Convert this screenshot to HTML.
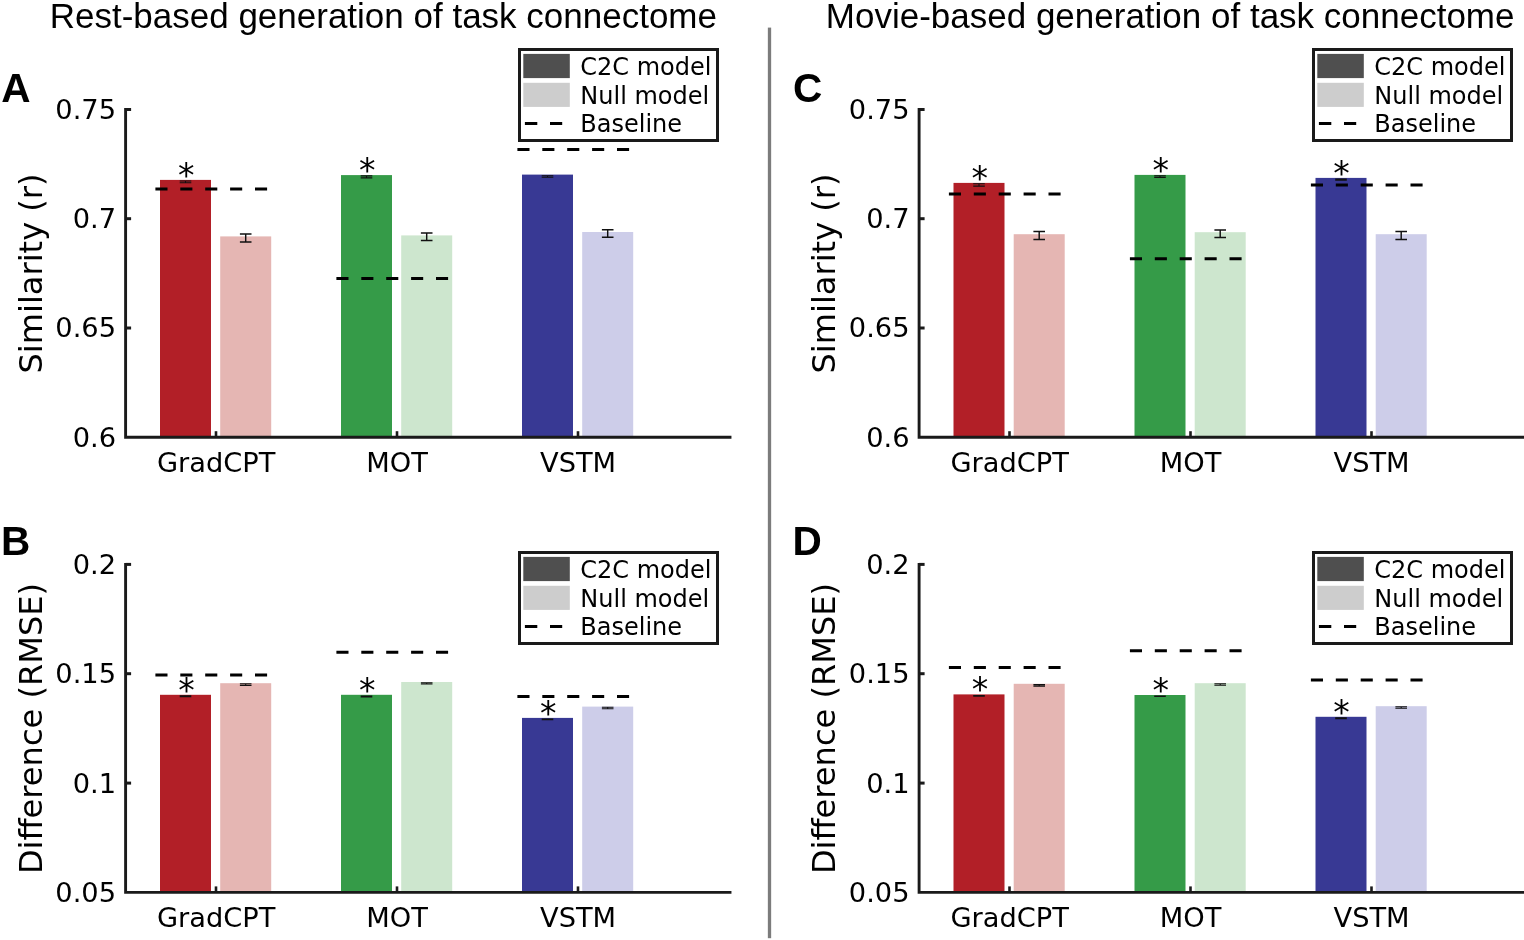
<!DOCTYPE html>
<html><head><meta charset="utf-8"><title>Figure</title>
<style>
html,body{margin:0;padding:0;background:#fff;}
svg{display:block;}
.tk{font-family:'DejaVu Sans', sans-serif;font-size:27.25px;fill:#000;}
.lg{font-family:'DejaVu Sans', sans-serif;font-size:24px;fill:#000;}
.yl{font-family:'DejaVu Sans', sans-serif;font-size:32.1px;fill:#000;}
.st{font-family:'DejaVu Sans', sans-serif;font-size:33px;fill:#000;}
.tt{font-family:'Liberation Sans', Arial, sans-serif;font-size:35px;fill:#000;}
.pl{font-family:'Liberation Sans', Arial, sans-serif;font-size:40.6px;font-weight:bold;fill:#000;}
</style></head>
<body>
<svg width="1524" height="940" viewBox="0 0 1524 940">
<rect width="1524" height="940" fill="#fff"/>
<text transform="translate(49.7 27.7) scale(1 1.025)" class="tt">Rest-based generation of task connectome</text>
<text transform="translate(825.8 27.7) scale(1 1.025)" class="tt">Movie-based generation of task connectome</text>
<rect x="767.85" y="27.6" width="3.3" height="910.6" fill="#7c7c7c"/>
<rect x="160.0" y="179.9" width="51.0" height="257.3" fill="#b21f27"/>
<rect x="220.2" y="236.4" width="51.0" height="200.8" fill="#e5b6b3"/>
<rect x="341.0" y="175.1" width="51.0" height="262.1" fill="#359b48"/>
<rect x="401.2" y="235.4" width="51.0" height="201.8" fill="#cde6ce"/>
<rect x="522.0" y="174.6" width="51.0" height="262.6" fill="#383994"/>
<rect x="582.2" y="232.0" width="51.0" height="205.2" fill="#cdcde9"/>
<path d="M185.5 181.0V182.7M179.7 181.0H191.3M179.7 182.7H191.3" stroke="#111" stroke-width="1.1" fill="none"/>
<path d="M245.7 234.0V242.0M239.9 234.0H251.5M239.9 242.0H251.5" stroke="#111" stroke-width="1.45" fill="none"/>
<path d="M366.5 175.9V177.9M360.7 175.9H372.3M360.7 177.9H372.3" stroke="#111" stroke-width="1.1" fill="none"/>
<path d="M426.7 232.9V240.5M420.9 232.9H432.5M420.9 240.5H432.5" stroke="#111" stroke-width="1.45" fill="none"/>
<path d="M547.5 175.8V177.2M541.7 175.8H553.3M541.7 177.2H553.3" stroke="#111" stroke-width="1.1" fill="none"/>
<path d="M607.7 229.7V237.3M601.9 229.7H613.5M601.9 237.3H613.5" stroke="#111" stroke-width="1.45" fill="none"/>
<line x1="155.4" y1="189.1" x2="267.2" y2="189.1" stroke="#000" stroke-width="3" stroke-dasharray="12.1 12.8"/>
<line x1="336.4" y1="278.4" x2="448.2" y2="278.4" stroke="#000" stroke-width="3" stroke-dasharray="12.1 12.8"/>
<line x1="517.4" y1="149.4" x2="629.2" y2="149.4" stroke="#000" stroke-width="3" stroke-dasharray="12.1 12.8"/>
<text x="186.3" y="187.1" text-anchor="middle" class="st">*</text>
<text x="367.2" y="182.1" text-anchor="middle" class="st">*</text>
<path d="M125.6 109.5V437.2H730.0" stroke="#1a1a1a" stroke-width="2.9" fill="none" stroke-linecap="square"/>
<line x1="125.6" y1="109.5" x2="131.1" y2="109.5" stroke="#1a1a1a" stroke-width="3"/>
<text x="116.0" y="118.9" text-anchor="end" class="tk">0.75</text>
<line x1="125.6" y1="218.7" x2="131.1" y2="218.7" stroke="#1a1a1a" stroke-width="3"/>
<text x="116.0" y="228.1" text-anchor="end" class="tk">0.7</text>
<line x1="125.6" y1="328.0" x2="131.1" y2="328.0" stroke="#1a1a1a" stroke-width="3"/>
<text x="116.0" y="337.4" text-anchor="end" class="tk">0.65</text>
<text x="116.0" y="446.6" text-anchor="end" class="tk">0.6</text>
<line x1="216.0" y1="437.2" x2="216.0" y2="431.2" stroke="#1a1a1a" stroke-width="2.6"/>
<text x="216.1" y="471.6" text-anchor="middle" class="tk">GradCPT</text>
<line x1="397.0" y1="437.2" x2="397.0" y2="431.2" stroke="#1a1a1a" stroke-width="2.6"/>
<text x="397.1" y="471.6" text-anchor="middle" class="tk">MOT</text>
<line x1="578.0" y1="437.2" x2="578.0" y2="431.2" stroke="#1a1a1a" stroke-width="2.6"/>
<text x="578.1" y="471.6" text-anchor="middle" class="tk">VSTM</text>
<text transform="translate(41.8 273.5) rotate(-90)" text-anchor="middle" class="yl">Similarity (r)</text>
<text x="1.2" y="102.3" class="pl">A</text>
<rect x="519.5" y="49.5" width="198" height="91" fill="#fff" stroke="#1a1a1a" stroke-width="3"/>
<rect x="523.3" y="53.9" width="46.5" height="24.2" fill="#4f4f4f"/>
<rect x="523.3" y="82.8" width="46.5" height="24.1" fill="#cdcdcd"/>
<line x1="524.9" y1="123.5" x2="562.2" y2="123.5" stroke="#000" stroke-width="3" stroke-dasharray="12.4 12.7"/>
<text x="580.3" y="74.8" class="lg">C2C model</text>
<text x="580.3" y="103.5" class="lg">Null model</text>
<text x="580.3" y="132.2" class="lg">Baseline</text>
<rect x="160.0" y="694.8" width="51.0" height="197.6" fill="#b21f27"/>
<rect x="220.2" y="683.2" width="51.0" height="209.2" fill="#e5b6b3"/>
<rect x="341.0" y="694.8" width="51.0" height="197.6" fill="#359b48"/>
<rect x="401.2" y="682.0" width="51.0" height="210.4" fill="#cde6ce"/>
<rect x="522.0" y="717.9" width="51.0" height="174.5" fill="#383994"/>
<rect x="582.2" y="706.6" width="51.0" height="185.8" fill="#cdcde9"/>
<path d="M185.5 695.9V696.8M179.7 695.9H191.3M179.7 696.8H191.3" stroke="#111" stroke-width="1.1" fill="none"/>
<path d="M245.7 683.8V685.4M239.9 683.8H251.5M239.9 685.4H251.5" stroke="#111" stroke-width="1.1" fill="none"/>
<path d="M366.5 696.0V696.9M360.7 696.0H372.3M360.7 696.9H372.3" stroke="#111" stroke-width="1.1" fill="none"/>
<path d="M426.7 682.7V684.0M420.9 682.7H432.5M420.9 684.0H432.5" stroke="#111" stroke-width="1.1" fill="none"/>
<path d="M547.5 719.1V719.6M541.7 719.1H553.3M541.7 719.6H553.3" stroke="#111" stroke-width="1.1" fill="none"/>
<path d="M607.7 707.2V708.7M601.9 707.2H613.5M601.9 708.7H613.5" stroke="#111" stroke-width="1.1" fill="none"/>
<line x1="155.4" y1="675.0" x2="267.2" y2="675.0" stroke="#000" stroke-width="3" stroke-dasharray="12.1 12.8"/>
<line x1="336.4" y1="652.2" x2="448.2" y2="652.2" stroke="#000" stroke-width="3" stroke-dasharray="12.1 12.8"/>
<line x1="517.4" y1="696.5" x2="629.2" y2="696.5" stroke="#000" stroke-width="3" stroke-dasharray="12.1 12.8"/>
<text x="186.5" y="701.8" text-anchor="middle" class="st">*</text>
<text x="367.2" y="701.8" text-anchor="middle" class="st">*</text>
<text x="548.2" y="724.7" text-anchor="middle" class="st">*</text>
<path d="M125.6 564.4V892.4H730.0" stroke="#1a1a1a" stroke-width="2.9" fill="none" stroke-linecap="square"/>
<line x1="125.6" y1="564.4" x2="131.1" y2="564.4" stroke="#1a1a1a" stroke-width="3"/>
<text x="116.0" y="573.8" text-anchor="end" class="tk">0.2</text>
<line x1="125.6" y1="673.7" x2="131.1" y2="673.7" stroke="#1a1a1a" stroke-width="3"/>
<text x="116.0" y="683.1" text-anchor="end" class="tk">0.15</text>
<line x1="125.6" y1="783.1" x2="131.1" y2="783.1" stroke="#1a1a1a" stroke-width="3"/>
<text x="116.0" y="792.5" text-anchor="end" class="tk">0.1</text>
<text x="116.0" y="901.8" text-anchor="end" class="tk">0.05</text>
<line x1="216.0" y1="892.4" x2="216.0" y2="886.4" stroke="#1a1a1a" stroke-width="2.6"/>
<text x="216.1" y="927.0" text-anchor="middle" class="tk">GradCPT</text>
<line x1="397.0" y1="892.4" x2="397.0" y2="886.4" stroke="#1a1a1a" stroke-width="2.6"/>
<text x="397.1" y="927.0" text-anchor="middle" class="tk">MOT</text>
<line x1="578.0" y1="892.4" x2="578.0" y2="886.4" stroke="#1a1a1a" stroke-width="2.6"/>
<text x="578.1" y="927.0" text-anchor="middle" class="tk">VSTM</text>
<text transform="translate(41.8 728.5) rotate(-90)" text-anchor="middle" class="yl">Difference (RMSE)</text>
<text x="1.0" y="554.9" class="pl">B</text>
<rect x="519.5" y="552.5" width="198" height="91" fill="#fff" stroke="#1a1a1a" stroke-width="3"/>
<rect x="523.3" y="556.9" width="46.5" height="24.2" fill="#4f4f4f"/>
<rect x="523.3" y="585.8" width="46.5" height="24.1" fill="#cdcdcd"/>
<line x1="524.9" y1="626.5" x2="562.2" y2="626.5" stroke="#000" stroke-width="3" stroke-dasharray="12.4 12.7"/>
<text x="580.3" y="577.8" class="lg">C2C model</text>
<text x="580.3" y="606.5" class="lg">Null model</text>
<text x="580.3" y="635.2" class="lg">Baseline</text>
<rect x="953.5" y="182.9" width="51.0" height="254.3" fill="#b21f27"/>
<rect x="1013.7" y="234.2" width="51.0" height="203.0" fill="#e5b6b3"/>
<rect x="1134.5" y="174.9" width="51.0" height="262.3" fill="#359b48"/>
<rect x="1194.7" y="232.2" width="51.0" height="205.0" fill="#cde6ce"/>
<rect x="1315.5" y="177.9" width="51.0" height="259.3" fill="#383994"/>
<rect x="1375.7" y="234.2" width="51.0" height="203.0" fill="#cdcde9"/>
<path d="M979.0 183.7V186.1M973.2 183.7H984.8M973.2 186.1H984.8" stroke="#111" stroke-width="1.1" fill="none"/>
<path d="M1039.2 231.4V239.4M1033.4 231.4H1045.0M1033.4 239.4H1045.0" stroke="#111" stroke-width="1.45" fill="none"/>
<path d="M1160.0 175.7V177.4M1154.2 175.7H1165.8M1154.2 177.4H1165.8" stroke="#111" stroke-width="1.1" fill="none"/>
<path d="M1220.2 230.0V237.4M1214.4 230.0H1226.0M1214.4 237.4H1226.0" stroke="#111" stroke-width="1.45" fill="none"/>
<path d="M1341.0 179.0V180.1M1335.2 179.0H1346.8M1335.2 180.1H1346.8" stroke="#111" stroke-width="1.1" fill="none"/>
<path d="M1401.2 231.5V239.4M1395.4 231.5H1407.0M1395.4 239.4H1407.0" stroke="#111" stroke-width="1.45" fill="none"/>
<line x1="948.9" y1="194.1" x2="1060.7" y2="194.1" stroke="#000" stroke-width="3" stroke-dasharray="12.1 12.8"/>
<line x1="1129.9" y1="258.8" x2="1241.7" y2="258.8" stroke="#000" stroke-width="3" stroke-dasharray="12.1 12.8"/>
<line x1="1310.9" y1="184.9" x2="1422.7" y2="184.9" stroke="#000" stroke-width="3" stroke-dasharray="12.1 12.8"/>
<text x="979.8" y="189.9" text-anchor="middle" class="st">*</text>
<text x="1160.7" y="181.5" text-anchor="middle" class="st">*</text>
<text x="1341.5" y="184.7" text-anchor="middle" class="st">*</text>
<path d="M919.1 109.5V437.2H1523.5" stroke="#1a1a1a" stroke-width="2.9" fill="none" stroke-linecap="square"/>
<line x1="919.1" y1="109.5" x2="924.6" y2="109.5" stroke="#1a1a1a" stroke-width="3"/>
<text x="909.5" y="118.9" text-anchor="end" class="tk">0.75</text>
<line x1="919.1" y1="218.7" x2="924.6" y2="218.7" stroke="#1a1a1a" stroke-width="3"/>
<text x="909.5" y="228.1" text-anchor="end" class="tk">0.7</text>
<line x1="919.1" y1="328.0" x2="924.6" y2="328.0" stroke="#1a1a1a" stroke-width="3"/>
<text x="909.5" y="337.4" text-anchor="end" class="tk">0.65</text>
<text x="909.5" y="446.6" text-anchor="end" class="tk">0.6</text>
<line x1="1009.5" y1="437.2" x2="1009.5" y2="431.2" stroke="#1a1a1a" stroke-width="2.6"/>
<text x="1009.6" y="471.6" text-anchor="middle" class="tk">GradCPT</text>
<line x1="1190.5" y1="437.2" x2="1190.5" y2="431.2" stroke="#1a1a1a" stroke-width="2.6"/>
<text x="1190.6" y="471.6" text-anchor="middle" class="tk">MOT</text>
<line x1="1371.5" y1="437.2" x2="1371.5" y2="431.2" stroke="#1a1a1a" stroke-width="2.6"/>
<text x="1371.6" y="471.6" text-anchor="middle" class="tk">VSTM</text>
<text transform="translate(835.3 273.5) rotate(-90)" text-anchor="middle" class="yl">Similarity (r)</text>
<text x="793.1" y="102.3" class="pl">C</text>
<rect x="1313.5" y="49.5" width="198" height="91" fill="#fff" stroke="#1a1a1a" stroke-width="3"/>
<rect x="1317.3" y="53.9" width="46.5" height="24.2" fill="#4f4f4f"/>
<rect x="1317.3" y="82.8" width="46.5" height="24.1" fill="#cdcdcd"/>
<line x1="1318.9" y1="123.5" x2="1356.2" y2="123.5" stroke="#000" stroke-width="3" stroke-dasharray="12.4 12.7"/>
<text x="1374.3" y="74.8" class="lg">C2C model</text>
<text x="1374.3" y="103.5" class="lg">Null model</text>
<text x="1374.3" y="132.2" class="lg">Baseline</text>
<rect x="953.5" y="694.4" width="51.0" height="198.0" fill="#b21f27"/>
<rect x="1013.7" y="683.8" width="51.0" height="208.6" fill="#e5b6b3"/>
<rect x="1134.5" y="695.0" width="51.0" height="197.4" fill="#359b48"/>
<rect x="1194.7" y="683.2" width="51.0" height="209.2" fill="#cde6ce"/>
<rect x="1315.5" y="716.8" width="51.0" height="175.6" fill="#383994"/>
<rect x="1375.7" y="706.2" width="51.0" height="186.2" fill="#cdcde9"/>
<path d="M979.0 695.6V696.2M973.2 695.6H984.8M973.2 696.2H984.8" stroke="#111" stroke-width="1.1" fill="none"/>
<path d="M1039.2 684.6V686.1M1033.4 684.6H1045.0M1033.4 686.1H1045.0" stroke="#111" stroke-width="1.1" fill="none"/>
<path d="M1160.0 696.0V696.5M1154.2 696.0H1165.8M1154.2 696.5H1165.8" stroke="#111" stroke-width="1.1" fill="none"/>
<path d="M1220.2 683.8V685.3M1214.4 683.8H1226.0M1214.4 685.3H1226.0" stroke="#111" stroke-width="1.1" fill="none"/>
<path d="M1341.0 717.8V718.8M1335.2 717.8H1346.8M1335.2 718.8H1346.8" stroke="#111" stroke-width="1.1" fill="none"/>
<path d="M1401.2 706.8V708.3M1395.4 706.8H1407.0M1395.4 708.3H1407.0" stroke="#111" stroke-width="1.1" fill="none"/>
<line x1="948.9" y1="667.4" x2="1060.7" y2="667.4" stroke="#000" stroke-width="3" stroke-dasharray="12.1 12.8"/>
<line x1="1129.9" y1="650.8" x2="1241.7" y2="650.8" stroke="#000" stroke-width="3" stroke-dasharray="12.1 12.8"/>
<line x1="1310.9" y1="680.1" x2="1422.7" y2="680.1" stroke="#000" stroke-width="3" stroke-dasharray="12.1 12.8"/>
<text x="979.9" y="701.0" text-anchor="middle" class="st">*</text>
<text x="1160.7" y="701.8" text-anchor="middle" class="st">*</text>
<text x="1341.5" y="723.8" text-anchor="middle" class="st">*</text>
<path d="M919.1 564.4V892.4H1523.5" stroke="#1a1a1a" stroke-width="2.9" fill="none" stroke-linecap="square"/>
<line x1="919.1" y1="564.4" x2="924.6" y2="564.4" stroke="#1a1a1a" stroke-width="3"/>
<text x="909.5" y="573.8" text-anchor="end" class="tk">0.2</text>
<line x1="919.1" y1="673.7" x2="924.6" y2="673.7" stroke="#1a1a1a" stroke-width="3"/>
<text x="909.5" y="683.1" text-anchor="end" class="tk">0.15</text>
<line x1="919.1" y1="783.1" x2="924.6" y2="783.1" stroke="#1a1a1a" stroke-width="3"/>
<text x="909.5" y="792.5" text-anchor="end" class="tk">0.1</text>
<text x="909.5" y="901.8" text-anchor="end" class="tk">0.05</text>
<line x1="1009.5" y1="892.4" x2="1009.5" y2="886.4" stroke="#1a1a1a" stroke-width="2.6"/>
<text x="1009.6" y="927.0" text-anchor="middle" class="tk">GradCPT</text>
<line x1="1190.5" y1="892.4" x2="1190.5" y2="886.4" stroke="#1a1a1a" stroke-width="2.6"/>
<text x="1190.6" y="927.0" text-anchor="middle" class="tk">MOT</text>
<line x1="1371.5" y1="892.4" x2="1371.5" y2="886.4" stroke="#1a1a1a" stroke-width="2.6"/>
<text x="1371.6" y="927.0" text-anchor="middle" class="tk">VSTM</text>
<text transform="translate(835.3 728.5) rotate(-90)" text-anchor="middle" class="yl">Difference (RMSE)</text>
<text x="792.6" y="554.9" class="pl">D</text>
<rect x="1313.5" y="552.5" width="198" height="91" fill="#fff" stroke="#1a1a1a" stroke-width="3"/>
<rect x="1317.3" y="556.9" width="46.5" height="24.2" fill="#4f4f4f"/>
<rect x="1317.3" y="585.8" width="46.5" height="24.1" fill="#cdcdcd"/>
<line x1="1318.9" y1="626.5" x2="1356.2" y2="626.5" stroke="#000" stroke-width="3" stroke-dasharray="12.4 12.7"/>
<text x="1374.3" y="577.8" class="lg">C2C model</text>
<text x="1374.3" y="606.5" class="lg">Null model</text>
<text x="1374.3" y="635.2" class="lg">Baseline</text>
</svg>
</body></html>
